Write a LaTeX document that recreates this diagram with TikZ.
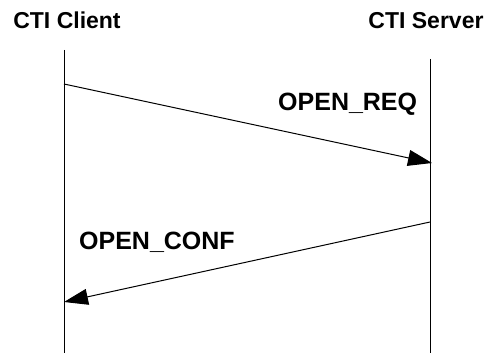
\documentclass[tikz,border=0pt]{standalone}
\usepackage{fontspec}
\setmainfont{Liberation Sans}
\usetikzlibrary{arrows.meta}
\newcommand{\linethick}{1pt}
\newcommand{\titlefont}{\fontsize{23}{26}\selectfont\bfseries}
\newcommand{\msgfont}{\fontsize{25}{29}\selectfont\bfseries}

\begin{document}
\begin{tikzpicture}[x=1pt,y=-1pt]
\useasboundingbox (0,0) rectangle (491,353);
%titles
\node[inner sep=0pt,anchor=base] (client) at (67,29) {\titlefont CTI Client};
\node[inner sep=0pt,anchor=base] (server) at (426,29) {\titlefont CTI Server};
%lifelines
\coordinate (c1) at (64,50);
\coordinate (c2) at (64,353);
\coordinate (s1) at (430,59);
\coordinate (s2) at (430,353);
\draw[line width=\linethick] (c1) -- (c2);
\draw[line width=\linethick] (s1) -- (s2);
%messages
\coordinate (req1) at (64,84);
\coordinate (req2) at (432,163);
\coordinate (conf1) at (430,222);
\coordinate (conf2) at (64,302);
\draw[line width=\linethick,-{Triangle[length=24pt,width=16pt]}] (req1) -- (req2);
\draw[line width=\linethick,-{Triangle[length=24pt,width=16pt]}] (conf1) -- (conf2);
\node[inner sep=0pt,anchor=base west] (req) at (278,111) {\msgfont OPEN\_REQ};
\node[inner sep=0pt,anchor=base west] (conf) at (79,250) {\msgfont OPEN\_CONF};
\end{tikzpicture}
\end{document}
